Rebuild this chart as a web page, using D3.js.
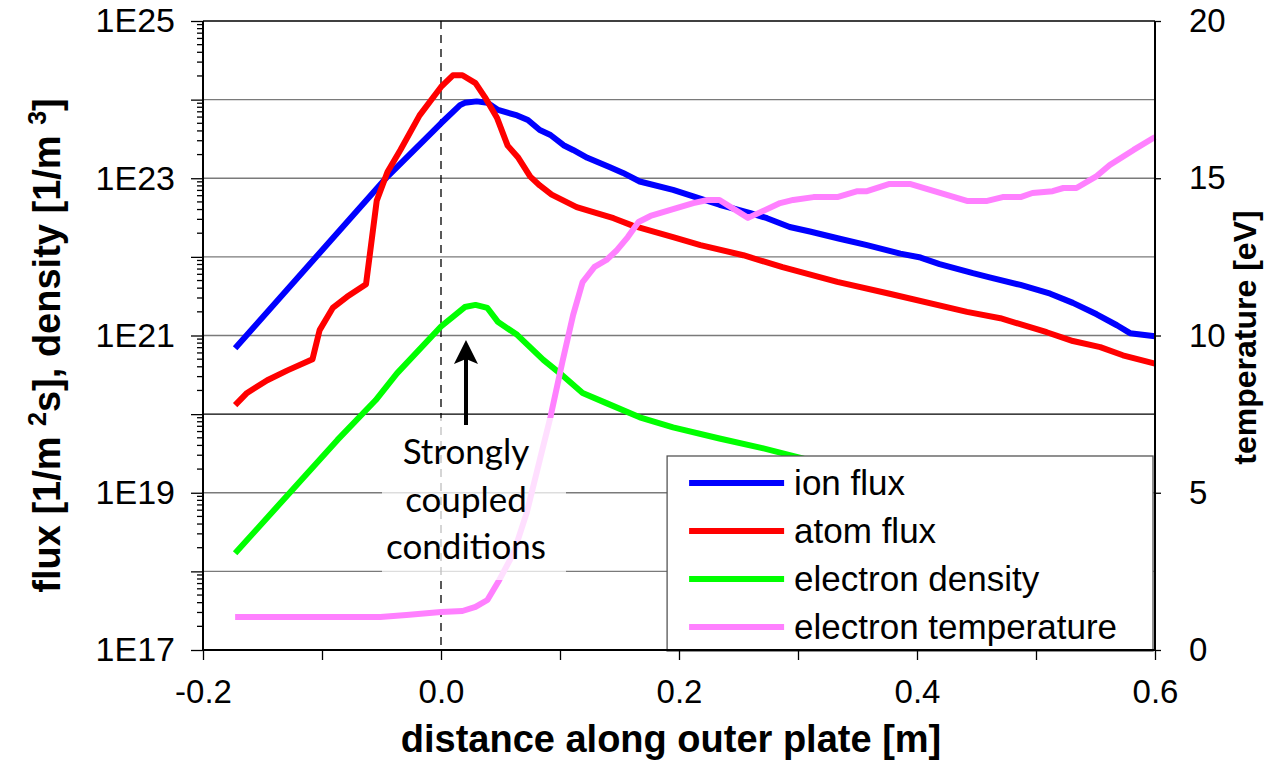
<!DOCTYPE html>
<html>
<head>
<meta charset="utf-8">
<script src="https://cdn.jsdelivr.net/npm/d3@7"></script>
<style>
  body { margin: 0; background: #fff; }
  svg { display: block; }
  .tick text { font-family: "Liberation Sans", Arial, sans-serif; }
</style>
</head>
<body>
<div id="chart"></div>
<script>
// ---- data ----
var xIon = [-0.173, -0.045, 0.000, 0.016, 0.020, 0.030, 0.039, 0.048, 0.064, 0.073, 0.083, 0.092, 0.103, 0.111, 0.123, 0.142, 0.153, 0.167, 0.195, 0.212, 0.234, 0.260, 0.274, 0.293, 0.310, 0.335, 0.358, 0.386, 0.403, 0.419, 0.447, 0.461, 0.487, 0.512, 0.531, 0.551, 0.568, 0.579, 0.600];
var ionFlux = [6.9e20, 1.05e23, 5.0e23, 8.5e23, 9.1e23, 9.5e23, 9.1e23, 7.4e23, 6.3e23, 5.5e23, 4.1e23, 3.55e23, 2.63e23, 2.29e23, 1.82e23, 1.38e23, 1.17e23, 9.1e22, 7.1e22, 5.9e22, 4.6e22, 3.6e22, 3.1e22, 2.4e22, 2.1e22, 1.7e22, 1.41e22, 1.1e22, 9.8e21, 8.1e21, 6.2e21, 5.5e21, 4.4e21, 3.4e21, 2.6e21, 1.86e21, 1.35e21, 1.07e21, 9.8e20];

var xAtom = [-0.173, -0.163, -0.146, -0.129, -0.108, -0.102, -0.091, -0.079, -0.063, -0.054, -0.045, -0.034, -0.018, 0.000, 0.010, 0.018, 0.029, 0.037, 0.047, 0.056, 0.065, 0.075, 0.083, 0.093, 0.114, 0.128, 0.145, 0.161, 0.195, 0.218, 0.254, 0.287, 0.333, 0.377, 0.442, 0.470, 0.509, 0.531, 0.554, 0.573, 0.600];
var atomFlux = [1.3e20, 1.86e20, 2.7e20, 3.6e20, 5.0e20, 1.17e21, 2.24e21, 3.1e21, 4.5e21, 5.2e22, 1.2e23, 2.3e23, 6.3e23, 1.45e24, 2.04e24, 2.04e24, 1.62e24, 1.07e24, 5.9e23, 2.6e23, 1.82e23, 1.05e23, 8.1e22, 6.2e22, 4.3e22, 3.7e22, 3.1e22, 2.5e22, 1.78e22, 1.41e22, 1.05e22, 7.4e21, 4.8e21, 3.4e21, 2.0e21, 1.66e21, 1.1e21, 8.5e20, 7.1e20, 5.6e20, 4.4e20];

var xDens = [-0.173, -0.087, -0.055, -0.037, 0.000, 0.020, 0.029, 0.039, 0.048, 0.064, 0.086, 0.100, 0.119, 0.139, 0.167, 0.195, 0.234, 0.270, 0.303, 0.335];
var eDensity = [1.7e18, 4.7e19, 1.5e20, 3.3e20, 1.3e21, 2.3e21, 2.45e21, 2.24e21, 1.48e21, 1.02e21, 4.9e20, 3.3e20, 1.86e20, 1.38e20, 9.1e19, 6.8e19, 4.9e19, 3.7e19, 2.75e19, 2.0e19];

var xTemp = [-0.173, -0.051, -0.029, 0.000, 0.018, 0.029, 0.039, 0.048, 0.061, 0.072, 0.083, 0.092, 0.102, 0.111, 0.119, 0.129, 0.139, 0.148, 0.157, 0.166, 0.176, 0.195, 0.212, 0.224, 0.234, 0.258, 0.285, 0.296, 0.313, 0.333, 0.350, 0.358, 0.377, 0.394, 0.442, 0.459, 0.472, 0.487, 0.497, 0.514, 0.523, 0.534, 0.551, 0.562, 0.582, 0.600];
var eTemp = [1.05, 1.05, 1.11, 1.21, 1.24, 1.37, 1.59, 2.16, 3.08, 4.36, 6.04, 7.41, 9.16, 10.65, 11.70, 12.18, 12.40, 12.72, 13.13, 13.61, 13.80, 14.02, 14.21, 14.31, 14.31, 13.74, 14.21, 14.31, 14.40, 14.40, 14.59, 14.59, 14.82, 14.82, 14.28, 14.28, 14.40, 14.40, 14.53, 14.59, 14.69, 14.69, 15.07, 15.42, 15.90, 16.31];

var seriesNames = ["ion flux", "atom flux", "electron density", "electron temperature"];
var seriesColors = ["#0000ff", "#ff0000", "#00ff00", "#ff80ff"];

var xTicks = [-0.2, 0.0, 0.2, 0.4, 0.6];
var xTickLabels = ["-0.2", "0.0", "0.2", "0.4", "0.6"];
var yTickExps = [17, 19, 21, 23, 25];
var yTickLabels = ["1E17", "1E19", "1E21", "1E23", "1E25"];
var tTicks = [0, 5, 10, 15, 20];

var annotationLines = ["Strongly", "coupled", "conditions"];

// ---- layout ----
var W = 1264, H = 761;
var margin = { top: 21, right: 109, bottom: 111, left: 203 };
var width = W - margin.left - margin.right,
    height = H - margin.top - margin.bottom;

var svg = d3.select("#chart").append("svg")
    .attr("width", W)
    .attr("height", H);
var g = svg.append("g")
    .attr("transform", "translate(" + margin.left + "," + margin.top + ")");

var x = d3.scaleLinear().domain([-0.2, 0.6]).range([0, width]);
var y = d3.scaleLog().domain([1e17, 1e25]).range([height, 0]);
var yT = d3.scaleLinear().domain([0, 20]).range([height, 0]);

var expOf = function(d) { return Math.round(Math.log10(d)); };

// gridlines every decade
var decades = d3.range(17, 26).map(function(e) { return Math.pow(10, e); });
g.selectAll(".grid")
    .data(decades.slice(1, -1))
    .enter().append("line")
    .attr("class", "grid")
    .attr("x1", 0).attr("x2", width)
    .attr("y1", function(d) { return y(d); })
    .attr("y2", function(d) { return y(d); })
    .attr("stroke", function(d) { return expOf(d) === 20 ? "#000" : "#7a7a7a"; })
    .attr("stroke-width", 1.3);

// x = 0 dashed line
g.append("line")
    .attr("x1", x(0)).attr("x2", x(0))
    .attr("y1", 0).attr("y2", height)
    .attr("stroke", "#000")
    .attr("stroke-width", 1.3)
    .attr("stroke-dasharray", "8,6");

// curves
var logLine = function(xs) {
    return d3.line()
        .x(function(d, i) { return x(xs[i]); })
        .y(function(d) { return y(d); });
};
var tLine = d3.line()
    .x(function(d, i) { return x(xTemp[i]); })
    .y(function(d) { return yT(d); });

var curves = [
    { xs: xIon, ys: ionFlux, color: seriesColors[0] },
    { xs: xAtom, ys: atomFlux, color: seriesColors[1] },
    { xs: xDens, ys: eDensity, color: seriesColors[2] }
];
curves.forEach(function(c) {
    g.append("path")
        .datum(c.ys)
        .attr("fill", "none")
        .attr("stroke", c.color)
        .attr("stroke-width", 6)
        .attr("stroke-linejoin", "round")
        .attr("d", logLine(c.xs));
});
g.append("path")
    .datum(eTemp)
    .attr("fill", "none")
    .attr("stroke", seriesColors[3])
    .attr("stroke-width", 6)
    .attr("stroke-linejoin", "round")
    .attr("d", tLine);

// annotation
var ax = x(0.021);
g.append("rect")
    .attr("x", ax - 84).attr("y", 397)
    .attr("width", 184).attr("height", 162)
    .attr("fill", "#fff")
    .attr("opacity", 0.75);
g.selectAll(".anno")
    .data(annotationLines)
    .enter().append("text")
    .attr("class", "anno")
    .attr("x", ax)
    .attr("y", function(d, i) { return 443 + i * 47.5; })
    .attr("text-anchor", "middle")
    .style("font-family", "Lato, 'Open Sans', sans-serif")
    .style("font-size", "35px")
    .attr("fill", "#000")
    .text(function(d) { return d; });
g.append("line")
    .attr("x1", ax).attr("x2", ax)
    .attr("y1", 404).attr("y2", 338)
    .attr("stroke", "#000").attr("stroke-width", 4);
g.append("path")
    .attr("d", "M" + ax + ",319 L" + (ax - 12) + ",343 L" + ax + ",338 L" + (ax + 12) + ",343 Z")
    .attr("fill", "#000");

// legend
var legend = g.append("g")
    .attr("transform", "translate(" + x(0.19) + "," + 435 + ")");
legend.append("rect")
    .attr("width", width - x(0.19) - 2)
    .attr("height", 195)
    .attr("fill", "#fff")
    .attr("stroke", "#555")
    .attr("stroke-width", 1.3);
var items = legend.selectAll(".item")
    .data(seriesNames)
    .enter().append("g")
    .attr("class", "item")
    .attr("transform", function(d, i) { return "translate(0," + (27 + i * 48) + ")"; });
items.append("line")
    .attr("x1", 22).attr("x2", 117)
    .attr("stroke", function(d, i) { return seriesColors[i]; })
    .attr("stroke-width", 6);
items.append("text")
    .attr("x", 127)
    .attr("dy", "0.35em")
    .style("font-family", "'Liberation Sans', Arial, sans-serif")
    .style("font-size", "35px")
    .text(function(d) { return d; });

// axes
var yAxis = d3.axisLeft(y)
    .tickValues(decades)
    .tickSize(12)
    .tickPadding(16)
    .tickFormat(function(d) {
        var k = yTickExps.indexOf(expOf(d));
        return k < 0 ? "" : yTickLabels[k];
    });
var yAxisG = g.append("g").call(yAxis);

// minor log ticks
var minors = [];
decades.slice(0, -1).forEach(function(d) {
    for (var m = 2; m < 10; m++) minors.push(d * m);
});
g.selectAll(".minor")
    .data(minors)
    .enter().append("line")
    .attr("x1", -6).attr("x2", 0)
    .attr("y1", function(d) { return y(d); })
    .attr("y2", function(d) { return y(d); })
    .attr("stroke", "#000")
    .attr("stroke-width", 1.3);

var xAxis = d3.axisBottom(x)
    .tickValues(d3.range(-0.2, 0.61, 0.1))
    .tickSize(10)
    .tickPadding(20)
    .tickFormat(function(d) {
        var k = xTicks.findIndex(function(t) { return Math.abs(t - d) < 1e-6; });
        return k < 0 ? "" : xTickLabels[k];
    });
var xAxisG = g.append("g")
    .attr("transform", "translate(0," + height + ")")
    .call(xAxis);

var tAxis = d3.axisRight(yT)
    .tickValues(tTicks)
    .tickSize(6)
    .tickPadding(28);
var tAxisG = g.append("g")
    .attr("transform", "translate(" + width + ",0)")
    .call(tAxis);

// top border
g.append("line")
    .attr("x1", 0).attr("x2", width)
    .attr("y1", 0).attr("y2", 0)
    .attr("stroke", "#000").attr("stroke-width", 1.5);

[yAxisG, xAxisG, tAxisG].forEach(function(a) {
    a.selectAll(".domain").attr("stroke", "#000").attr("stroke-width", 2);
    a.selectAll(".tick line").attr("stroke", "#000").attr("stroke-width", 1.3);
    a.selectAll(".tick text")
        .style("font-family", "'Liberation Sans', Arial, sans-serif")
        .style("font-size", "33px")
        .attr("fill", "#000");
});
yAxisG.selectAll(".tick text").style("font-size", "34px");
yAxisG.select(".domain").attr("d", "M0," + height + "V0");
xAxisG.select(".domain").attr("d", "M0,0H" + width);
tAxisG.select(".domain").attr("d", "M0," + height + "V0");

// axis titles
svg.append("text")
    .attr("x", margin.left + width / 2 - 8)
    .attr("y", 752)
    .attr("text-anchor", "middle")
    .style("font-family", "'Liberation Sans', Arial, sans-serif")
    .style("font-weight", "bold")
    .style("font-size", "38px")
    .text("distance along outer plate [m]");

var leftTitle = svg.append("text")
    .attr("transform", "translate(60," + (margin.top + height / 2 + 10) + ") rotate(-90)")
    .attr("text-anchor", "middle")
    .style("font-family", "'Liberation Sans', Arial, sans-serif")
    .style("font-weight", "bold")
    .style("font-size", "38px");
leftTitle.append("tspan").text("flux [1/m ");
leftTitle.append("tspan").attr("baseline-shift", "super").style("font-size", "25px").text("2");
leftTitle.append("tspan").text("s], density [1/m ");
leftTitle.append("tspan").attr("baseline-shift", "super").style("font-size", "25px").text("3");
leftTitle.append("tspan").text("]");

svg.append("text")
    .attr("transform", "translate(1256," + (margin.top + height / 2 + 2) + ") rotate(-90)")
    .attr("text-anchor", "middle")
    .style("font-family", "'Liberation Sans', Arial, sans-serif")
    .style("font-weight", "bold")
    .style("font-size", "32px")
    .text("temperature [eV]");
</script>
</body>
</html>
